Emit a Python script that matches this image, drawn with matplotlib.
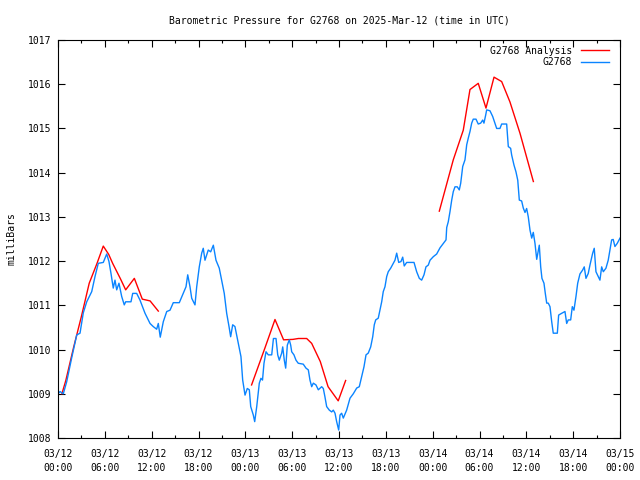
import numpy as np
import matplotlib
matplotlib.use('Agg')
import matplotlib.pyplot as plt

# hours since 2025-03-12 00:00 UTC
obs_hours = [0.0, 0.26, 0.68, 1.11, 1.75, 2.4, 2.82, 3.24, 3.68, 4.32, 4.74, 5.16, 5.8, 6.24, 6.53,
             6.79, 7.08, 7.3, 7.52, 7.81, 8.16, 8.49, 8.67, 9.35, 9.57, 10.08, 10.5, 11.15, 11.79,
             12.2, 12.64, 12.85, 13.1, 13.49, 13.93, 14.35, 14.77, 15.54, 16.05, 16.4, 16.62, 16.91,
             17.13, 17.55, 17.77, 18.1, 18.41, 18.61, 18.83, 19.25, 19.56, 19.9, 20.24, 20.66, 20.97,
             21.3, 21.61, 21.91, 22.12, 22.38, 22.67, 23.1, 23.44, 23.66, 23.96, 24.25, 24.51, 24.69,
             25.02, 25.2, 25.46, 25.79, 26.0, 26.2, 26.39, 26.65, 26.94, 27.38, 27.6, 27.93, 28.15,
             28.35, 28.66, 28.79, 28.99, 29.17, 29.38, 29.63, 29.81, 29.94, 30.23, 30.49, 30.78,
             31.42, 31.77, 32.07, 32.28, 32.5, 32.71, 33.05, 33.35, 33.78, 33.99, 34.2, 34.42, 34.76,
             35.06, 35.27, 35.49, 35.7, 35.96, 36.13, 36.34, 36.55, 36.98, 37.41, 37.83, 38.27, 38.6,
             38.91, 39.2, 39.46, 39.75, 40.06, 40.32, 40.52, 40.7, 41.03, 41.25, 41.47, 41.67, 41.89,
             42.11, 42.31, 42.62, 42.95, 43.17, 43.39, 43.65, 43.94, 44.16, 44.36, 44.67, 45.61,
             45.95, 46.29, 46.59, 46.89, 47.14, 47.44, 47.66, 48.08, 48.51, 48.94, 49.36, 49.71,
             49.8, 50.0, 50.22, 50.44, 50.64, 50.86, 51.15, 51.41, 51.59, 51.85, 52.14, 52.36, 52.56,
             52.78, 53.0, 53.2, 53.55, 53.84, 54.15, 54.41, 54.57, 54.79, 54.92, 55.34, 55.69, 55.98,
             56.2, 56.62, 56.84, 57.48, 57.69, 57.99, 58.12, 58.42, 58.67, 58.9, 59.1, 59.4, 59.61,
             59.83, 60.04, 60.25, 60.47, 60.69, 60.89, 61.11, 61.33, 61.53, 61.66, 61.84, 62.0,
             62.26, 62.43, 62.61, 62.81, 63.03, 63.25, 63.45, 63.97, 64.14, 64.53, 64.95, 65.17,
             65.37, 65.68, 65.89, 66.1, 66.36, 66.58, 66.87, 67.22, 67.42, 67.64, 67.93, 68.15, 68.5,
             68.7, 68.92, 69.21, 69.43, 69.65, 69.86, 70.2, 70.49, 70.71, 70.93, 71.13, 71.35, 71.64,
             72.0]
obs_mb = [1009.0, 1009.05, 1009.0, 1009.27, 1009.81, 1010.33, 1010.37, 1010.83, 1011.08, 1011.31,
          1011.65, 1011.95, 1011.97, 1012.16, 1011.99, 1011.72, 1011.39, 1011.57, 1011.35, 1011.5,
          1011.2, 1011.01, 1011.08, 1011.08, 1011.27, 1011.27, 1011.12, 1010.82, 1010.59, 1010.52,
          1010.46, 1010.59, 1010.28, 1010.63, 1010.86, 1010.89, 1011.06, 1011.06, 1011.27, 1011.42,
          1011.69, 1011.42, 1011.16, 1011.01, 1011.42, 1011.87, 1012.18, 1012.29, 1012.02, 1012.25,
          1012.21, 1012.36, 1012.02, 1011.84, 1011.57, 1011.27, 1010.82, 1010.52, 1010.29, 1010.56,
          1010.52, 1010.14, 1009.84, 1009.31, 1008.97, 1009.12, 1009.09, 1008.71, 1008.52, 1008.37,
          1008.71, 1009.24, 1009.35, 1009.31, 1009.69, 1009.95, 1009.88, 1009.88, 1010.25, 1010.25,
          1009.88, 1009.76, 1009.92, 1010.06, 1009.76, 1009.58, 1010.1, 1010.22, 1010.1, 1009.95,
          1009.88, 1009.76, 1009.69, 1009.67, 1009.58, 1009.54, 1009.31, 1009.16, 1009.24, 1009.2,
          1009.09, 1009.16, 1009.12, 1008.93, 1008.71, 1008.63, 1008.59, 1008.63, 1008.56, 1008.37,
          1008.18, 1008.52, 1008.56, 1008.45, 1008.63, 1008.9, 1009.0, 1009.13, 1009.16, 1009.39,
          1009.61, 1009.88, 1009.92, 1010.06, 1010.29, 1010.56, 1010.67, 1010.71, 1010.89, 1011.08,
          1011.31, 1011.42, 1011.65, 1011.76, 1011.84, 1011.95, 1012.02, 1012.18, 1011.97, 1011.99,
          1012.09, 1011.89, 1011.97, 1011.97, 1011.76, 1011.61, 1011.57, 1011.69, 1011.87, 1011.91,
          1012.02, 1012.1, 1012.16, 1012.3, 1012.4, 1012.48, 1012.76, 1012.89, 1013.12, 1013.38,
          1013.57, 1013.68, 1013.68, 1013.61, 1013.76, 1014.14, 1014.29, 1014.63, 1014.78, 1014.93,
          1015.12, 1015.21, 1015.21, 1015.1, 1015.12, 1015.19, 1015.12, 1015.3, 1015.42, 1015.4,
          1015.27, 1015.12, 1015.0, 1015.0, 1015.1, 1015.1, 1014.59, 1014.55, 1014.4, 1014.17,
          1014.02, 1013.83, 1013.38, 1013.36, 1013.2, 1013.1, 1013.19, 1013.0, 1012.7, 1012.52,
          1012.65, 1012.4, 1012.04, 1012.23, 1012.36, 1011.87, 1011.61, 1011.5, 1011.27, 1011.05,
          1011.05, 1010.97, 1010.63, 1010.37, 1010.37, 1010.78, 1010.82, 1010.86, 1010.59, 1010.67,
          1010.67, 1010.97, 1010.89, 1011.2, 1011.5, 1011.71, 1011.8, 1011.87, 1011.61, 1011.72,
          1011.91, 1012.18, 1012.29, 1011.76, 1011.65, 1011.57, 1011.87, 1011.76, 1011.84, 1012.02,
          1012.25, 1012.48, 1012.49, 1012.33, 1012.4, 1012.52]

# analysis runs (three separate pieces)
ana1_hours = [0.5, 1, 2, 3, 4, 5, 5.8, 6.5, 7, 8, 8.67, 9.78, 10.8, 11.8, 12.85]
ana1_mb = [1009.0, 1009.3, 1010.05, 1010.75, 1011.5, 1011.95, 1012.34, 1012.15, 1011.95, 1011.6,
           1011.35, 1011.61, 1011.14, 1011.1, 1010.87]
ana2_hours = [24.8, 26.5, 27.8, 28.9, 30.1, 30.8, 31.86, 32.5, 33.6, 34.6, 35.9, 36.85]
ana2_mb = [1009.2, 1010.03, 1010.68, 1010.22, 1010.23, 1010.25, 1010.25, 1010.14, 1009.73,
           1009.16, 1008.84, 1009.3]
ana3_hours = [48.85, 50.64, 51.92, 52.78, 53.84, 54.83, 55.86, 56.84, 57.9, 59.19, 60.9]
ana3_mb = [1013.13, 1014.29, 1014.96, 1015.88, 1016.02, 1015.46, 1016.16, 1016.06, 1015.6,
           1014.89, 1013.8]

tick_hours = list(range(0, 73, 6))
tick_labels = ['03/12\n00:00', '03/12\n06:00', '03/12\n12:00', '03/12\n18:00',
               '03/13\n00:00', '03/13\n06:00', '03/13\n12:00', '03/13\n18:00',
               '03/14\n00:00', '03/14\n06:00', '03/14\n12:00', '03/14\n18:00',
               '03/15\n00:00']

if __name__ == '__main__':
    plt.rcParams['font.family'] = ['DejaVu Sans Mono']
    plt.rcParams['font.size'] = 7

    fig = plt.figure(figsize=(6.4, 4.8), dpi=100)
    ax = fig.add_axes([58/640, 1 - 438/480, 562/640, 398/480])

    ax.plot(ana1_hours, ana1_mb, color='#ff0000', lw=1.0, label='G2768 Analysis')
    ax.plot(ana2_hours, ana2_mb, color='#ff0000', lw=1.0)
    ax.plot(ana3_hours, ana3_mb, color='#ff0000', lw=1.0)
    ax.plot(obs_hours, obs_mb, color='#0a84ff', lw=1.0, label='G2768')

    ax.set_xlim(0, 72)
    ax.set_ylim(1008, 1017)
    ax.set_xticks(tick_hours)
    ax.set_xticklabels(tick_labels, linespacing=1.45)
    ax.set_xticks(range(3, 72, 6), minor=True)
    ax.set_yticks(range(1008, 1018))
    ax.tick_params(which='both', direction='in', top=True, right=True, width=0.8)
    ax.tick_params(axis='x', which='major', length=5, pad=8)
    ax.tick_params(axis='y', which='major', length=5, pad=5)
    ax.tick_params(which='minor', length=2.5)
    for s in ax.spines.values():
        s.set_linewidth(0.8)

    ax.set_ylabel('milliBars', labelpad=8)
    ax.set_title('Barometric Pressure for G2768 on 2025-Mar-12 (time in UTC)', fontsize=7, pad=12)
    ax.legend(loc='upper right', bbox_to_anchor=(0.987, 0.995), frameon=False, markerfirst=False,
              handlelength=2.9, borderaxespad=0, borderpad=0.4, labelspacing=0.15,
              handletextpad=0.9)

    plt.savefig('out.png', dpi=100)
